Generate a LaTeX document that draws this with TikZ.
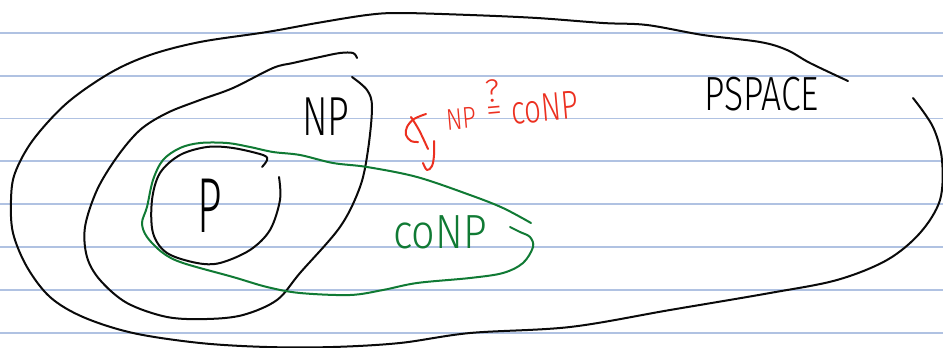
\documentclass[tikz,border=0pt]{standalone}
\usepackage{fontspec}
\usepackage{graphicx}
\newfontfamily\hand{Fira Sans Light}
\definecolor{rule}{RGB}{176,194,226}
\definecolor{ink}{RGB}{10,10,10}
\definecolor{inkgreen}{RGB}{16,122,52}
\definecolor{inkred}{RGB}{236,48,32}
\tikzset{
  pen/.style={line width=2pt, line cap=round, line join=round},
  ruling/.style={line width=1.3pt, rule},
  label/.style={inner sep=0pt, outer sep=0pt},
}
\begin{document}
\begin{tikzpicture}[x=1pt, y=-1pt]
  \useasboundingbox (0,0) rectangle (943,348);
  \fill[white] (0,0) rectangle (943,348);

  % ruled paper
  \foreach \yy in {33,76,118.5,161,204,247,290,333}
    \draw[ruling] (0,\yy) -- (943,\yy);

  % PSPACE
  \draw[pen, ink] plot[smooth, tension=0.55] coordinates {
    (848,81) (810,63) (787,50) (760,42) (703,35) (647,25) (603,23) (537,18)
    (470,15) (400,13) (367,15) (317,23) (267,32) (200,42) (150,55) (110,73)
    (67,103) (33,140) (15,173) (11,200) (13,233) (27,267) (50,297) (83,317)
    (133,333) (200,343) (267,347) (333,347) (400,343) (470,333) (570,327)
    (670,310) (770,293) (837,280) (887,260) (920,233) (940,200) (942,160)
    (933,127) (913,98)};

  % NP
  \draw[pen, ink] plot[smooth, tension=0.55] coordinates {
    (357,58) (353,53) (340,53) (320,57) (293,63) (273,68) (233,88) (200,100)
    (167,113) (140,130) (117,157) (97,190) (85,227) (87,257) (100,280)
    (127,303) (167,317) (207,319) (243,315) (277,300) (300,273) (340,227)
    (360,187) (368,150) (372,107) (367,90) (352,77)};

  % P
  \draw[pen, ink] plot[smooth, tension=0.55] coordinates {
    (262,167) (267,160) (263,155) (233,148) (207,147) (180,155) (160,173)
    (152,200) (153,233) (167,253) (197,263) (220,263) (250,250) (270,230)
    (280,200) (279,177)};

  % coNP
  \draw[pen, inkgreen] plot[smooth, tension=0.55] coordinates {
    (531,223) (503,208) (470,195) (417,177) (367,167) (333,163) (300,155)
    (273,152) (250,147) (227,143) (200,143) (180,148) (163,160) (153,180)
    (147,207) (142,223) (147,237) (163,253) (183,263) (233,277) (267,287)
    (300,293) (350,295) (383,290) (417,283) (470,278) (503,273) (523,263)
    (533,247) (530,237) (520,232) (510,227)};

  % labels
  \node[label, font=\hand\fontsize{55}{60}\selectfont, xscale=0.69, anchor=base]
    (np) at (326,135) {NP};
  \node[label, font=\hand\fontsize{78}{80}\selectfont, xscale=0.55, anchor=base]
    (p) at (210,232) {P};
  \node[label, font=\hand\fontsize{48}{50}\selectfont, xscale=0.74, anchor=base]
    (pspace) at (762,110) {PSPACE};
  \node[label, inkgreen, font=\hand\fontsize{48}{50}\selectfont, xscale=0.86,
    anchor=base west] (conp) at (393,248) {coNP};
  \node[label, inkred, font=\hand\fontsize{30}{30}\selectfont, rotate=5,
    anchor=base west] (question) at (447,130)
    {\scalebox{0.8}[1]{NP}\hspace{11pt}%
     {\fontsize{32}{32}\selectfont\raisebox{5pt}{\shortstack{?\\[1pt]=}}}%
     \hspace{9pt}%
     {\fontsize{40}{40}\selectfont\scalebox{0.74}[1]{coNP}}};

  % red mark before the question
  \draw[pen, inkred] plot[smooth, tension=0.6] coordinates {
    (426,114) (414,119) (407,127) (406,135) (411,141) (418,142)};
  \draw[pen, inkred] plot[smooth, tension=0.6] coordinates {
    (411,117) (419,130) (428,149)};
  \draw[pen, inkred] plot[smooth, tension=0.6] coordinates {
    (434,141) (434,155) (432,166) (427,170) (423,163)};
\end{tikzpicture}
\end{document}
